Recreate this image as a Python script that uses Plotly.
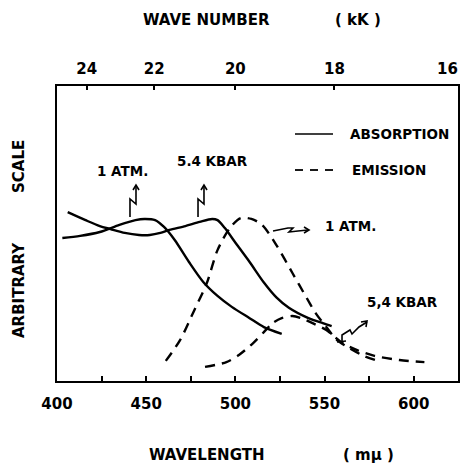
import plotly.graph_objects as go

# ---------------- data ----------------
abs_1atm_wl = [403, 413, 424, 435, 444, 449, 455, 460, 466, 474, 482, 490, 498, 508, 516, 526]
abs_1atm_y = [48.5, 49.2, 50.5, 52.9, 54.5, 54.9, 54.5, 52.2, 47.8, 40.4, 33.7, 29.0, 25.3, 21.5, 18.5, 16.2]

abs_54kbar_wl = [406, 416, 424, 430, 438, 446, 452, 458, 463, 472, 480, 487, 490, 494, 501, 508, 516, 523, 530, 541, 549, 554]
abs_54kbar_y = [57.2, 54.5, 52.5, 51.5, 50.2, 49.5, 49.5, 50.2, 51.2, 52.5, 53.9, 54.9, 54.5, 51.9, 46.1, 40.4, 33.5, 28.5, 25.0, 21.5, 19.8, 18.8]

em_1atm_wl = [461, 469, 477, 484, 490, 497, 503, 509, 515, 523, 532, 540, 545, 551, 557, 564, 572, 582]
em_1atm_y = [7.1, 14.1, 24.2, 33.3, 44.4, 51.9, 55.2, 54.9, 52.9, 46.1, 36.7, 28.3, 23.2, 18.5, 14.1, 11.4, 8.8, 6.7]

em_54kbar_wl = [483, 495, 502, 510, 516, 521, 526, 532, 537, 543, 551, 560, 568, 578, 592, 606]
em_54kbar_y = [5.1, 6.7, 9.1, 13.1, 16.8, 19.9, 21.5, 22.2, 21.5, 19.9, 17.5, 13.1, 10.8, 8.8, 7.4, 6.7]

wavelength_ticks = [400, 425, 450, 475, 500, 525, 550, 575, 600]
wavelength_labels = ["400", "", "450", "", "500", "", "550", "", "600"]
wavenumber_kK = [24, 22, 20, 18, 16]
wavenumber_labels = ["24", "22", "20", "18", "16"]

# ---------------- layout geometry (page pixels) ----------------
PAGE_W, PAGE_H = 469, 466
OFF = 8                      # default body margin of the html page
W, H = PAGE_W - OFF, PAGE_H - OFF
L, R, T, B = 56, 459, 85, 382   # plot frame in page pixels
FONT = "DejaVu Sans"


def pp(px, py):
    return (px - L) / (R - L), (B - py) / (B - T)


def path(points):
    s = ""
    for i, (x, y) in enumerate(points):
        xx, yy = pp(x, y)
        s += ("M" if i == 0 else " L") + f" {xx:.4f} {yy:.4f}"
    return s


fig = go.Figure()
LW = 2.4
spl = dict(shape="spline", smoothing=0.8)
fig.add_trace(go.Scatter(x=abs_1atm_wl, y=abs_1atm_y, mode="lines", line=dict(color="black", width=LW, **spl), showlegend=False))
fig.add_trace(go.Scatter(x=abs_54kbar_wl, y=abs_54kbar_y, mode="lines", line=dict(color="black", width=LW, **spl), showlegend=False))
fig.add_trace(go.Scatter(x=em_1atm_wl, y=em_1atm_y, mode="lines", line=dict(color="black", width=LW, dash="10px,7px", **spl), showlegend=False))
fig.add_trace(go.Scatter(x=em_54kbar_wl, y=em_54kbar_y, mode="lines", line=dict(color="black", width=LW, dash="10px,7px", **spl), showlegend=False))
# invisible trace for the top (wave-number) axis
fig.add_trace(go.Scatter(x=[10000 / k for k in wavenumber_kK], y=[0] * len(wavenumber_kK), xaxis="x2", mode="markers",
                         marker=dict(opacity=0), hoverinfo="skip", showlegend=False))

XR = [399.44, 625.4]
tickfont = dict(family=FONT, size=15, color="black", weight="bold")
# the last wave-number label sits at the frame corner; it is drawn as a text next to it
top_text = wavenumber_labels[:-1] + [""]
fig.update_layout(
    width=W, height=H,
    margin=dict(l=L - OFF, r=PAGE_W - R, t=T - OFF, b=PAGE_H - B, autoexpand=False),
    paper_bgcolor="white", plot_bgcolor="white",
    font=dict(family=FONT, size=15, color="black"),
    xaxis=dict(range=XR, tickvals=wavelength_ticks, ticktext=wavelength_labels,
               ticks="inside", ticklen=6, tickwidth=1.5, tickcolor="black",
               showgrid=False, zeroline=False, showline=False, automargin=False,
               ticklabelstandoff=11, tickfont=tickfont),
    xaxis2=dict(range=XR, overlaying="x", side="top", anchor="y",
                tickvals=[10000 / k for k in wavenumber_kK], ticktext=top_text,
                ticks="inside", ticklen=5, tickwidth=1.5, tickcolor="black",
                showgrid=False, zeroline=False, showline=False, automargin=False,
                ticklabelstandoff=7, tickfont=tickfont),
    yaxis=dict(range=[0, 100], showticklabels=False, ticks="", showgrid=False, zeroline=False, showline=False,
               automargin=False),
)

shapes = [dict(type="rect", xref="paper", yref="paper", x0=0, y0=0, x1=1, y1=1, line=dict(color="black", width=2))]

arrow_paths = [
    [(130, 217), (130, 199), (136, 204), (136, 186)],
    [(133, 190), (136, 185), (139, 190)],
    [(198, 217), (198, 199), (204, 204), (204, 186)],
    [(201, 190), (204, 185), (207, 190)],
    [(273, 231), (288, 228), (293, 228), (289, 232), (298, 231), (308, 230)],
    [(304, 227), (309, 230), (304, 233)],
    [(337, 342), (346, 341)],
    [(342, 341), (342, 335), (350, 330), (352, 334), (359, 327), (367, 322)],
    [(361, 322), (367, 321), (366, 327)],
]
for p in arrow_paths:
    shapes.append(dict(type="path", xref="paper", yref="paper", path=path(p), line=dict(color="black", width=1.6)))

# legend samples
x0, y0 = pp(295, 134)
x1, _ = pp(333, 134)
shapes.append(dict(type="line", xref="paper", yref="paper", x0=x0, x1=x1, y0=y0, y1=y0, line=dict(color="black", width=1.5)))
for a, b in [(295, 303), (310, 318), (325, 333)]:
    xa, ya = pp(a, 170)
    xb, _ = pp(b, 170)
    shapes.append(dict(type="line", xref="paper", yref="paper", x0=xa, x1=xb, y0=ya, y1=ya, line=dict(color="black", width=1.8)))

fig.update_layout(shapes=shapes)

annots = [
    ("ABSORPTION", 348, 134, "left", 13.5, 0),
    ("EMISSION", 350, 170, "left", 13.5, 0),
    ("1 ATM.", 122, 171, "center", 13.5, 0),
    ("5.4 KBAR", 212, 161, "center", 13.5, 0),
    ("1 ATM.", 350, 226, "center", 13.5, 0),
    ("5,4 KBAR", 402, 302, "center", 13.5, 0),
    ("WAVE NUMBER", 206, 20, "center", 15, 0),
    ("( kK )", 358, 20, "center", 15, 0),
    ("WAVELENGTH", 207, 455, "center", 15, 0),
    ("( mμ )", 368, 455, "center", 15, 0),
    ("ARBITRARY", 19, 290, "center", 15, -90),
    ("SCALE", 19, 167, "center", 15, -90),
    (wavenumber_labels[-1], 447, 69, "center", 15, 0),
]
for text, px, py, xa, size, ang in annots:
    x, y = pp(px, py)
    fig.add_annotation(text=text, x=x, y=y, xref="paper", yref="paper", xanchor=xa, yanchor="middle",
                       showarrow=False, textangle=ang,
                       font=dict(family=FONT, size=size, color="black", weight="bold"))

fig.write_html("out.html")
